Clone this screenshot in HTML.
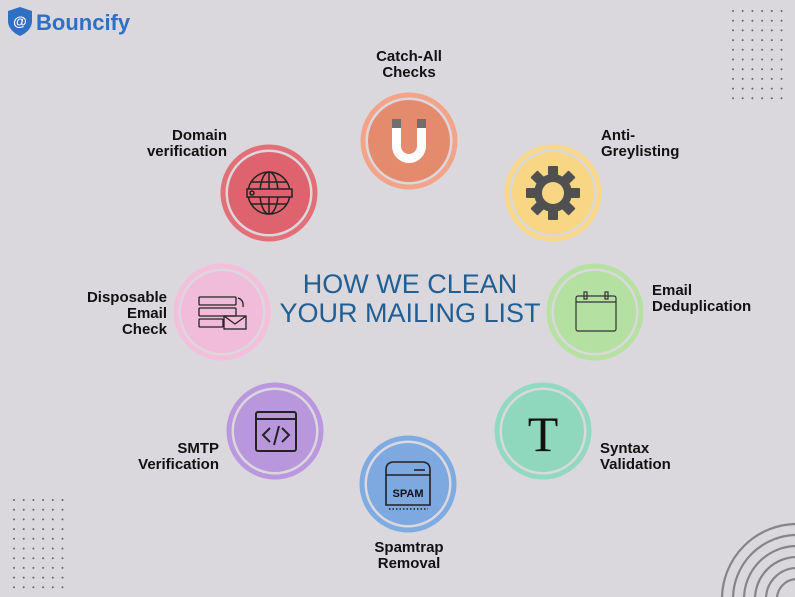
<!DOCTYPE html>
<html><head><meta charset="utf-8"><style>
html,body{margin:0;padding:0;background:#dad8dc;width:795px;height:597px;overflow:hidden;}
svg{display:block}
.l{font-family:"Liberation Sans",sans-serif;font-weight:bold;font-size:15px;fill:#111;}
</style></head><body>
<svg width="795" height="597" viewBox="0 0 795 597" xmlns="http://www.w3.org/2000/svg">
<defs>
<g id="dg">
<circle cx="0" cy="0" r="1"/><circle cx="9.7" cy="0" r="1"/><circle cx="19.4" cy="0" r="1"/><circle cx="29.1" cy="0" r="1"/><circle cx="38.8" cy="0" r="1"/><circle cx="48.5" cy="0" r="1"/>
</g>
<rect id="tooth" x="-5" y="-27" width="10" height="10" rx="1"/>
</defs>
<rect width="795" height="597" fill="#dad8dc"/>
<!-- logo -->
<path d="M8 11 L20 7 L32 11 L32 22 Q31 31 20 36 Q9 31 8 22 Z" fill="#2f6fc4"/>
<text x="20" y="26" text-anchor="middle" font-family="Liberation Sans,sans-serif" font-weight="bold" font-size="14" fill="#fff">@</text>
<text x="36" y="30" font-family="Liberation Sans,sans-serif" font-weight="bold" font-size="22" fill="#2f6fc4">Bouncify</text>
<!-- dots -->
<g fill="#666" transform="translate(733,11)">
<use href="#dg" y="0"/><use href="#dg" y="9.7"/><use href="#dg" y="19.4"/><use href="#dg" y="29.1"/><use href="#dg" y="38.8"/><use href="#dg" y="48.5"/><use href="#dg" y="58.2"/><use href="#dg" y="67.9"/><use href="#dg" y="77.6"/><use href="#dg" y="87.3"/>
</g>
<g fill="#666" transform="translate(14,500)">
<use href="#dg" y="0"/><use href="#dg" y="9.7"/><use href="#dg" y="19.4"/><use href="#dg" y="29.1"/><use href="#dg" y="38.8"/><use href="#dg" y="48.5"/><use href="#dg" y="58.2"/><use href="#dg" y="67.9"/><use href="#dg" y="77.6"/><use href="#dg" y="87.3"/>
</g>
<!-- arcs -->
<g fill="none" stroke="#858487" stroke-width="2.2">
<circle cx="797" cy="599" r="75"/><circle cx="797" cy="599" r="64"/><circle cx="797" cy="599" r="53"/><circle cx="797" cy="599" r="42"/><circle cx="797" cy="599" r="31"/><circle cx="797" cy="599" r="20"/>
</g>
<!-- title -->
<text x="410" y="293" text-anchor="middle" font-family="Liberation Sans,sans-serif" font-size="27" fill="#1f5f95">HOW WE CLEAN</text>
<text x="410" y="322" text-anchor="middle" font-family="Liberation Sans,sans-serif" font-size="27" fill="#1f5f95">YOUR MAILING LIST</text>
<!-- circles -->
<g>
<circle cx="409" cy="141" r="46" fill="#dad8dc" stroke="#f3a488" stroke-width="5"/><circle cx="409" cy="141" r="41" fill="#e58b6d"/>
<circle cx="269" cy="193" r="46" fill="#dad8dc" stroke="#e36f79" stroke-width="5"/><circle cx="269" cy="193" r="41" fill="#de636e"/>
<circle cx="553" cy="193" r="46" fill="#dad8dc" stroke="#f9d88a" stroke-width="5"/><circle cx="553" cy="193" r="41" fill="#f8d683"/>
<circle cx="222" cy="312" r="46" fill="#dad8dc" stroke="#f3bfdb" stroke-width="5"/><circle cx="222" cy="312" r="41" fill="#f1bcd9"/>
<circle cx="595" cy="312" r="46" fill="#dad8dc" stroke="#b6e1a3" stroke-width="5"/><circle cx="595" cy="312" r="41" fill="#b4e0a1"/>
<circle cx="275" cy="431" r="46" fill="#dad8dc" stroke="#bb97df" stroke-width="5"/><circle cx="275" cy="431" r="41" fill="#b897dc"/>
<circle cx="543" cy="431" r="46" fill="#dad8dc" stroke="#92d9c1" stroke-width="5"/><circle cx="543" cy="431" r="41" fill="#8fd8be"/>
<circle cx="408" cy="484" r="46" fill="#dad8dc" stroke="#7faae2" stroke-width="5"/><circle cx="408" cy="484" r="41" fill="#7ea8e0"/>
</g>
<!-- magnet -->
<path d="M392 124 V146 A17 17 0 0 0 426 146 V124 H417 V146 A8 8 0 0 1 401 146 V124 Z" fill="#fff"/>
<rect x="392" y="119" width="9" height="9" fill="#6f6f6f"/><rect x="417" y="119" width="9" height="9" fill="#6f6f6f"/>
<!-- globe -->
<g fill="none" stroke="#222" stroke-width="1.5">
<circle cx="269" cy="193" r="21"/><ellipse cx="269" cy="193" rx="9" ry="21"/><line x1="269" y1="172" x2="269" y2="214"/>
<line x1="251" y1="182" x2="287" y2="182"/><line x1="251" y1="204" x2="287" y2="204"/>
<rect x="247" y="189" width="45" height="8" fill="#de636e"/><circle cx="252" cy="193" r="2"/>
</g>
<!-- gear -->
<g transform="translate(553,193)" fill="#505050">
<circle r="19"/>
<use href="#tooth"/><use href="#tooth" transform="rotate(45)"/><use href="#tooth" transform="rotate(90)"/><use href="#tooth" transform="rotate(135)"/><use href="#tooth" transform="rotate(180)"/><use href="#tooth" transform="rotate(225)"/><use href="#tooth" transform="rotate(270)"/><use href="#tooth" transform="rotate(315)"/>
<circle r="11" fill="#f8d683"/>
</g>
<!-- servers + mail -->
<g fill="none" stroke="#222" stroke-width="1.3">
<rect x="199" y="297" width="37" height="8" rx="1"/><rect x="199" y="308" width="37" height="8" rx="1"/><rect x="199" y="319" width="24" height="8" rx="1"/>
<rect x="224" y="316" width="22" height="13"/><path d="M224 316 L235 324 L246 316"/>
<path d="M238 298 Q244 300 243 307"/>
</g>
<!-- calendar -->
<g fill="none" stroke="#333" stroke-width="1.2">
<rect x="576" y="296" width="40" height="35" rx="2"/><line x1="576" y1="302" x2="616" y2="302"/>
<rect x="584" y="292" width="3" height="7"/><rect x="605" y="292" width="3" height="7"/>
</g>
<!-- code -->
<g fill="none" stroke="#222" stroke-width="2">
<rect x="256" y="412" width="40" height="39" rx="2"/><line x1="256" y1="419" x2="296" y2="419"/>
<path d="M270 428 L263 435 L270 442 M282 428 L289 435 L282 442 M279 426 L274 445"/>
</g>
<!-- T -->
<text x="543" y="451" text-anchor="middle" font-family="Liberation Serif,serif" font-size="50" fill="#111">T</text>
<!-- spam -->
<g fill="none" stroke="#222" stroke-width="1.6">
<path d="M386 505 V470 Q386 462 394 462 H422 Q430 462 430 470 V505 Z"/>
<line x1="386" y1="475" x2="430" y2="475"/><line x1="414" y1="470" x2="425" y2="470"/>
<line x1="389" y1="509" x2="428" y2="509" stroke-dasharray="1.5 2"/>
</g>
<text x="408" y="497" text-anchor="middle" font-family="Liberation Sans,sans-serif" font-weight="bold" font-size="11" fill="#111">SPAM</text>
<!-- labels -->
<text class="l" x="409" y="61" text-anchor="middle">Catch-All</text>
<text class="l" x="409" y="77" text-anchor="middle">Checks</text>
<text class="l" x="227" y="140" text-anchor="end">Domain</text>
<text class="l" x="227" y="156" text-anchor="end">verification</text>
<text class="l" x="601" y="140">Anti-</text>
<text class="l" x="601" y="156">Greylisting</text>
<text class="l" x="167" y="302" text-anchor="end">Disposable</text>
<text class="l" x="167" y="318" text-anchor="end">Email</text>
<text class="l" x="167" y="334" text-anchor="end">Check</text>
<text class="l" x="652" y="295">Email</text>
<text class="l" x="652" y="311">Deduplication</text>
<text class="l" x="219" y="453" text-anchor="end">SMTP</text>
<text class="l" x="219" y="469" text-anchor="end">Verification</text>
<text class="l" x="600" y="453">Syntax</text>
<text class="l" x="600" y="469">Validation</text>
<text class="l" x="409" y="552" text-anchor="middle">Spamtrap</text>
<text class="l" x="409" y="568" text-anchor="middle">Removal</text>
</svg>
</body></html>
